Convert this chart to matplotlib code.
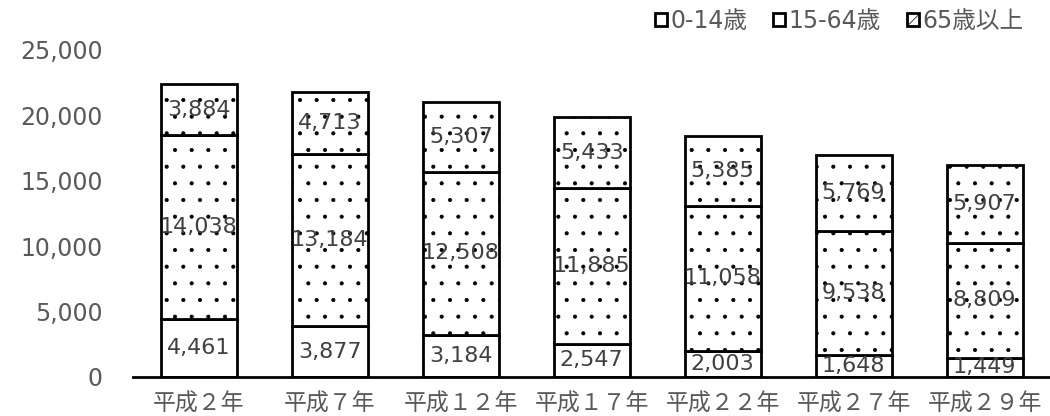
import matplotlib
matplotlib.use("Agg")
import matplotlib.pyplot as plt
from matplotlib.patches import Patch
import numpy as np

plt.rcParams['font.family'] = ['DejaVu Sans', 'Noto Sans CJK JP']
plt.rcParams['hatch.linewidth'] = 0.5

years = ['平成２年', '平成７年', '平成１２年', '平成１７年', '平成２２年', '平成２７年', '平成２９年']
age_0_14 = [4461, 3877, 3184, 2547, 2003, 1648, 1449]
age_15_64 = [14038, 13184, 12508, 11885, 11058, 9538, 8809]
age_65 = [3884, 4713, 5307, 5433, 5385, 5769, 5907]
series_names = ['0-14歳', '15-64歳', '65歳以上']

txt = '#595959'

fig = plt.figure(figsize=(10.5, 4.16), dpi=100)
ax = fig.add_axes([0.127, 0.094, 0.873, 0.786])

x = np.arange(len(years))
w = 0.58
bottom = np.zeros(len(years))
hatches = [None, '.', '.']
for vals, h in zip([age_0_14, age_15_64, age_65], hatches):
    bars = ax.bar(x, vals, w, bottom=bottom, color='white', edgecolor='black',
                  linewidth=2, hatch=h, zorder=2)
    for b, v, b0 in zip(bars, vals, bottom):
        ax.text(b.get_x() + b.get_width() / 2, b0 + v / 2, f'{v:,}',
                ha='center', va='center', fontsize=16, color='#404040', zorder=3)
    bottom += np.array(vals)

ax.set_xlim(-0.5, len(years) - 0.5)
ax.set_ylim(0, 25000)
ax.set_yticks(range(0, 25001, 5000))
ax.set_yticklabels([f'{v:,}' for v in range(0, 25001, 5000)], fontsize=17, color=txt)
ax.set_xticks(x)
ax.set_xticklabels(years, fontsize=16.5, color=txt,
                   fontfamily=['Noto Sans CJK JP', 'DejaVu Sans'])
ax.tick_params(axis='both', length=0)
ax.tick_params(axis='y', pad=22)
ax.tick_params(axis='x', pad=11)
for s in ['top', 'right', 'left']:
    ax.spines[s].set_visible(False)
ax.spines['bottom'].set_linewidth(2)

handles = [Patch(facecolor='white', edgecolor='black', linewidth=2),
           Patch(facecolor='white', edgecolor='black', linewidth=2),
           Patch(facecolor='white', edgecolor='black', linewidth=2, hatch='//')]
fig.legend(handles, series_names, loc='upper right', bbox_to_anchor=(0.995, 1.03),
           ncol=3, frameon=False, fontsize=17, labelcolor=txt,
           handlelength=0.5, handleheight=0.5, handletextpad=0.15, columnspacing=1.1)

fig.savefig('out.png', dpi=100)
